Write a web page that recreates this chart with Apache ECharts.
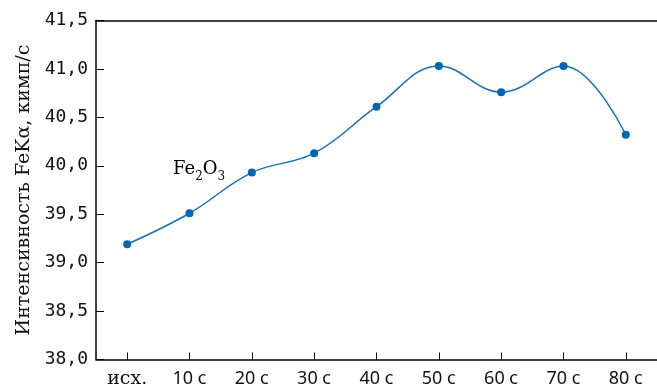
<!DOCTYPE html>
<html>
<head>
<meta charset="utf-8">
<script src="https://cdn.jsdelivr.net/npm/echarts@6/dist/echarts.min.js"></script>
<style>
html,body{margin:0;padding:0;background:#fff;}
#chart{width:657px;height:389px;}
</style>
</head>
<body>
<div id="chart"></div>
<script>
var categories = ['исх.', '10 с', '20 с', '30 с', '40 с', '50 с', '60 с', '70 с', '80 с'];
var intensity = [39.19, 39.51, 39.93, 40.13, 40.61, 41.03, 40.76, 41.03, 40.32];
var yMin = 38.0, yMax = 41.5, yStep = 0.5;
var yTitle = 'Интенсивность FeKα, кимп/с';

var chart = echarts.init(document.getElementById('chart'), null, {renderer: 'canvas'});
chart.setOption({
  animation: false,
  backgroundColor: '#ffffff',
  grid: {left: 96, top: 20.5, bottom: 29.5, right: -4, containLabel: false},
  xAxis: [{
    type: 'category',
    data: categories,
    boundaryGap: true,
    axisLine: {show: true, lineStyle: {color: '#000', width: 1.5}},
    axisTick: {show: true, inside: true, length: 7, alignWithLabel: true, interval: 0, lineStyle: {color: '#000', width: 1}},
    axisLabel: {
      interval: 0,
      margin: 10, color: '#111', fontSize: 18, fontFamily: 'Noto Sans',
      formatter: function (v, i) { return i === 0 ? '{s|' + v + '}' : v; },
      rich: {s: {fontFamily: 'DejaVu Serif', fontSize: 19, color: '#111'}}
    },
    splitLine: {show: false}
  }, {
    type: 'category',
    data: categories,
    position: 'top',
    axisLine: {show: true, onZero: false, lineStyle: {color: '#000', width: 1.5}},
    axisTick: {show: false},
    axisLabel: {show: false},
    splitLine: {show: false}
  }],
  yAxis: {
    type: 'value',
    min: yMin, max: yMax, interval: yStep,
    name: yTitle,
    nameLocation: 'middle',
    nameGap: 62,
    nameRotate: 90,
    nameTextStyle: {fontFamily: 'DejaVu Serif', fontSize: 19, color: '#111'},
    axisLine: {show: true, lineStyle: {color: '#000', width: 1.5}},
    axisTick: {show: true, inside: true, length: 8, lineStyle: {color: '#000', width: 1}},
    axisLabel: {
      margin: 8, color: '#111', fontSize: 18, fontFamily: 'DejaVu Sans Mono',
      formatter: function (v) { return v.toFixed(1).replace('.', ','); }
    },
    splitLine: {show: false}
  },
  series: [{
    type: 'line',
    data: intensity,
    smooth: 0.4,
    symbol: 'circle',
    symbolSize: 8,
    lineStyle: {color: '#1a6fb8', width: 1.5},
    itemStyle: {color: '#0066b3'}
  }],
  graphic: [{
    type: 'text',
    left: 173,
    top: 160,
    style: {
      text: '{h|\u200b}{n|Fe}{s|2}{n|O}{s|3}',
      rich: {
        h: {fontSize: 12, lineHeight: 23, verticalAlign: 'top'},
        n: {fontFamily: 'DejaVu Serif', fontSize: 18, lineHeight: 18, color: '#111', verticalAlign: 'top'},
        s: {fontFamily: 'DejaVu Serif', fontSize: 12, lineHeight: 12, color: '#111', verticalAlign: 'bottom'}
      }
    }
  }]
});
</script>
</body>
</html>
